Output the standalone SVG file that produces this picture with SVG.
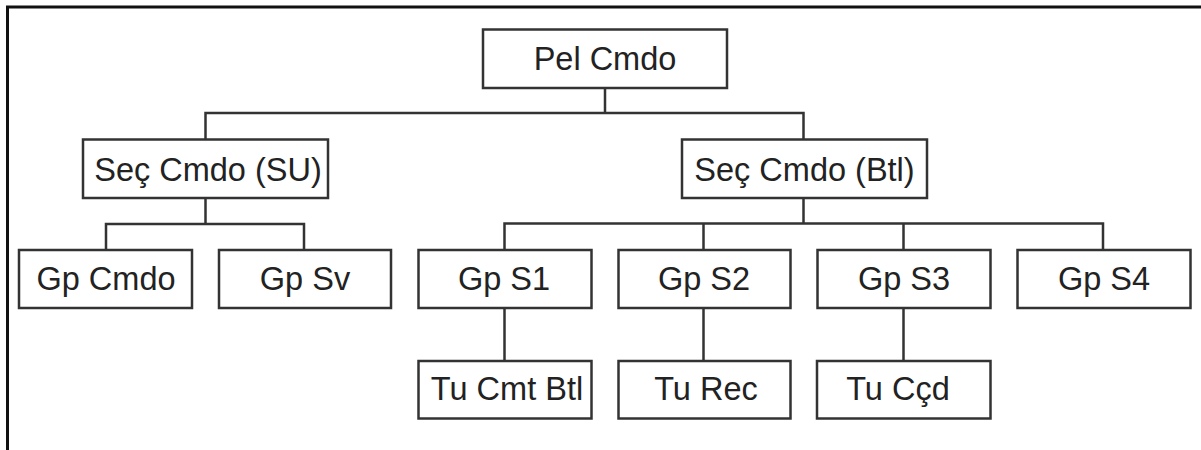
<svg xmlns="http://www.w3.org/2000/svg" width="1201" height="450" viewBox="0 0 1201 450">
  <style>
    .frame { fill: none; stroke: #111; stroke-width: 3; }
    .box { fill: #fff; stroke: #333; stroke-width: 2.5; }
    .lbl { font-family: "Liberation Sans", Arial, sans-serif; font-size: 32.5px; fill: #222; text-anchor: middle; }
    .wire { fill: none; stroke: #333; stroke-width: 2.5; }
  </style>
  <rect width="1201" height="450" fill="#fff"/>
  <!-- outer frame: top and left edges -->
  <path class="frame" d="M7.5 450 V7 H1201"/>

  <!-- connectors -->
  <g id="connectors">
    <path class="wire" d="M605 88 V113 M205.5 139 V113 H803.5 V139"/>
    <path class="wire" d="M205.5 198 V224 M106 250 V224 H304 V250"/>
    <path class="wire" d="M803.5 198 V223.5 M504.5 250 V223.5 H1103 V250 M703.5 223.5 V250 M903.5 223.5 V250"/>
    <path class="wire" d="M504.5 308 V361 M703.5 308 V361 M903.5 308 V361"/>
  </g>

  <g id="pel-cmdo">
    <rect class="box" x="483" y="29.5" width="244" height="58.5"/>
    <text class="lbl" x="605" y="70">Pel Cmdo</text>
  </g>
  <g id="sec-cmdo-su">
    <rect class="box" x="83" y="139.5" width="245" height="58.5"/>
    <text class="lbl" x="208" y="181">Seç Cmdo (SU)</text>
  </g>
  <g id="sec-cmdo-btl">
    <rect class="box" x="682" y="139.5" width="245" height="58.5"/>
    <text class="lbl" x="804.5" y="181">Seç Cmdo (Btl)</text>
  </g>
  <g id="gp-cmdo">
    <rect class="box" x="19" y="250" width="173" height="58"/>
    <text class="lbl" x="106" y="290">Gp Cmdo</text>
  </g>
  <g id="gp-sv">
    <rect class="box" x="219" y="250" width="172" height="58"/>
    <text class="lbl" x="305" y="290">Gp Sv</text>
  </g>
  <g id="gp-s1">
    <rect class="box" x="418.5" y="250" width="173" height="58"/>
    <text class="lbl" x="504" y="290">Gp S1</text>
  </g>
  <g id="gp-s2">
    <rect class="box" x="618.5" y="250" width="172" height="58"/>
    <text class="lbl" x="704" y="290">Gp S2</text>
  </g>
  <g id="gp-s3">
    <rect class="box" x="817.5" y="250" width="173" height="58"/>
    <text class="lbl" x="904" y="290">Gp S3</text>
  </g>
  <g id="gp-s4">
    <rect class="box" x="1017.5" y="250" width="173" height="58"/>
    <text class="lbl" x="1104" y="290">Gp S4</text>
  </g>
  <g id="tu-cmt-btl">
    <rect class="box" x="418.5" y="361" width="173" height="57.5"/>
    <text class="lbl" x="507" y="400">Tu Cmt Btl</text>
  </g>
  <g id="tu-rec">
    <rect class="box" x="618.5" y="361" width="172" height="57.5"/>
    <text class="lbl" x="706" y="400">Tu Rec</text>
  </g>
  <g id="tu-ccd">
    <rect class="box" x="817" y="361" width="173.5" height="57.5"/>
    <text class="lbl" x="898" y="400">Tu Cçd</text>
  </g>
</svg>
